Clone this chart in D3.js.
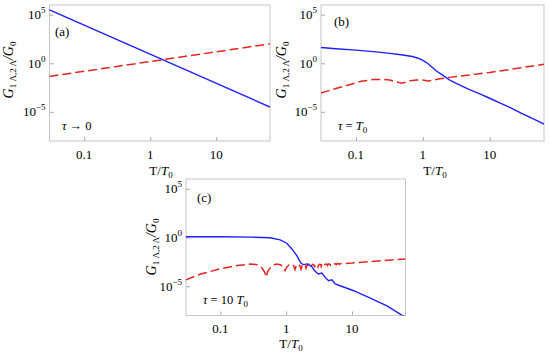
<!DOCTYPE html>
<html>
<head>
<meta charset="utf-8">
<title>G1Λ,2Λ/G0 versus T/T0</title>
<style>
  body { margin: 0; background: #fff; }
  svg { font-family: "Liberation Serif", "DejaVu Serif", serif; }
  .frame { fill: none; stroke: #c6c6c6; stroke-width: 1; }
  .tick line { stroke: #a8a8a8; }
  .blue { fill: none; stroke: #1f1fff; stroke-width: 1.4; }
  .red { fill: none; stroke: #e8261f; stroke-width: 1.5; stroke-dasharray: 9,4; }
</style>
</head>
<body>
<script src="https://d3js.org/d3.v7.min.js"></script>
<script>
// axes
var xTicks = [0.1, 1, 10];
var xTickLabels = ["0.1", "1", "10"];
var yTicks = [1e-5, 1, 1e5];
var yTickExps = ["\u22125", "0", "5"];

// values are log10(G/G0)
// (a) tau -> 0
var tA = [0.03, 65];
var blueA = [5.5, -4.5];
var redA = [-1.35, 2.0];

// (b) tau = T0
var tBlueB = [0.03, 0.05, 0.1, 0.2, 0.3, 0.5, 0.7, 0.85, 1.0, 1.15, 1.3, 1.6, 2.0, 2.5, 3, 4, 5, 7, 10, 15, 20, 30, 45, 65];
var blueB = [1.62, 1.5, 1.35, 1.17, 1.05, 0.85, 0.7, 0.52, 0.3, 0.05, -0.25, -0.8, -1.25, -1.7, -2.0, -2.4, -2.7, -3.13, -3.6, -4.15, -4.55, -5.15, -5.72, -6.26];
var tRedB = [0.03, 0.05, 0.08, 0.12, 0.18, 0.25, 0.32, 0.4, 0.48, 0.55, 0.65, 0.8, 1.0, 1.2, 1.4, 1.8, 2.5, 10, 65];
var redB = [-3.05, -2.6, -2.2, -1.85, -1.68, -1.65, -1.72, -1.92, -2.05, -1.95, -1.8, -1.72, -1.72, -1.82, -1.75, -1.6, -1.45, -0.95, -0.1];

// (c) tau = 10 T0
var tBlueC = [0.03, 0.1, 0.3, 0.57, 0.81, 1.02, 1.22, 1.45, 1.68, 1.83, 2.1, 2.45, 2.75, 3.09, 3.48, 3.92, 4.4, 4.94, 5.56, 6.6, 10.6, 19, 34, 65];
var blueC = [0.08, 0.08, 0.04, -0.03, -0.24, -0.59, -1.17, -1.86, -2.65, -2.78, -2.71, -2.99, -3.47, -3.74, -3.64, -4.09, -4.43, -4.33, -4.77, -4.95, -5.46, -6.22, -7.01, -8.2];
var tRedC = [0.03, 0.05, 0.1, 0.18, 0.28, 0.35, 0.42, 0.47, 0.495, 0.53, 0.6, 0.7, 0.82, 0.9, 0.96, 1.02, 1.1, 1.2, 1.3, 1.36, 1.42, 1.5, 1.62, 1.68, 1.74, 1.85, 1.95, 2.0, 2.06, 2.2, 2.3, 2.35, 2.4, 2.55, 2.66, 2.7, 2.74, 2.9, 3.0, 3.05, 3.1, 3.25, 3.36, 3.4, 3.44, 3.62, 3.76, 3.8, 3.84, 4.05, 4.2, 4.25, 4.3, 4.5, 4.66, 4.7, 4.75, 5.0, 5.15, 5.2, 5.25, 5.5, 5.75, 5.8, 5.85, 6.1, 6.35, 6.4, 6.45, 6.8, 7.1, 7.8, 10, 20, 40, 65];
var redC = [-4.33, -3.75, -3.2, -2.88, -2.72, -2.76, -3.05, -3.55, -4.05, -3.4, -2.95, -2.72, -2.8, -3.05, -3.4, -3.05, -2.8, -2.72, -2.9, -3.3, -2.9, -2.72, -2.92, -3.25, -2.9, -2.73, -2.88, -3.15, -2.9, -2.74, -2.86, -3.1, -2.88, -2.74, -2.86, -3.05, -2.86, -2.74, -2.84, -3.0, -2.84, -2.73, -2.82, -2.95, -2.82, -2.72, -2.8, -2.9, -2.8, -2.71, -2.78, -2.86, -2.78, -2.7, -2.76, -2.82, -2.76, -2.7, -2.74, -2.8, -2.74, -2.69, -2.72, -2.76, -2.72, -2.68, -2.7, -2.74, -2.7, -2.68, -2.67, -2.66, -2.62, -2.45, -2.3, -2.2];

var panels = [
  { frame: [49.5, 5, 270, 141], tag: "(a)", tagPos: [55, 36], tau: [62, 130], tauText: ["τ → 0"],
    yLab: [13, 70], xLab: [161, 175], tickBase: 159,
    blue: [tA, blueA], red: [tA, redA] },
  { frame: [321, 5, 544, 141], tag: "(b)", tagPos: [334, 26], tau: [338, 130], tauText: ["τ = ", "T", "0"],
    yLab: [286, 70], xLab: [435, 175], tickBase: 159,
    blue: [tBlueB, blueB], red: [tRedB, redB] },
  { frame: [186, 179, 405.5, 315.5], tag: "(c)", tagPos: [197, 202], tau: [203, 304], tauText: ["τ = 10 ", "T", "0"],
    yLab: [156, 247], xLab: [291, 348], tickBase: 333,
    blue: [tBlueC, blueC], red: [tRedC, redC] }
];

var svg = d3.select("body").append("svg")
  .attr("width", 550)
  .attr("height", 355);

panels.forEach(function(p, i) {
  var f = p.frame;
  var x = d3.scaleLog().domain([0.03, 65]).range([f[0], f[2]]);
  var y = d3.scaleLog().domain([1e-8, 1e6]).range([f[3], f[1]]);
  var g = svg.append("g");

  g.append("clipPath").attr("id", "clip" + i)
    .append("rect")
    .attr("x", f[0]).attr("y", f[1])
    .attr("width", f[2] - f[0]).attr("height", f[3] - f[1]);

  // ticks inside the frame
  g.append("g")
    .attr("transform", "translate(0," + f[3] + ")")
    .call(d3.axisBottom(x).tickValues(xTicks).tickSize(-4).tickFormat(""))
    .call(s => s.select(".domain").remove());
  g.append("g")
    .attr("transform", "translate(" + f[0] + ",0)")
    .call(d3.axisLeft(y).tickValues(yTicks).tickSize(-4).tickFormat(""))
    .call(s => s.select(".domain").remove());

  g.append("rect").attr("class", "frame")
    .attr("x", f[0]).attr("y", f[1])
    .attr("width", f[2] - f[0]).attr("height", f[3] - f[1]);

  // tick labels
  g.selectAll(".xl").data(xTicks).enter().append("text")
    .attr("x", d => x(d)).attr("y", p.tickBase)
    .attr("text-anchor", "middle").attr("font-size", 13)
    .text((d, k) => xTickLabels[k]);

  yTicks.forEach(function(v, k) {
    var t = g.append("text")
      .attr("x", f[0] - 4).attr("y", y(v) + 4.5)
      .attr("text-anchor", "end").attr("font-size", 13);
    t.append("tspan").text("10");
    t.append("tspan").attr("dy", -6).attr("font-size", 9).text(yTickExps[k]);
  });

  // curves
  var line = d3.line()
    .x(d => x(d[0]))
    .y(d => y(Math.pow(10, d[1])));
  var plot = g.append("g").attr("clip-path", "url(#clip" + i + ")");
  plot.append("path").attr("class", "red")
    .attr("d", line(d3.zip(p.red[0], p.red[1])));
  plot.append("path").attr("class", "blue")
    .attr("d", line(d3.zip(p.blue[0], p.blue[1])));

  // labels
  g.append("text").attr("x", p.tagPos[0]).attr("y", p.tagPos[1])
    .attr("font-size", 13).text(p.tag);

  var tau = g.append("text").attr("x", p.tau[0]).attr("y", p.tau[1]).attr("font-size", 12.5);
  tau.append("tspan").attr("font-style", "italic").text(p.tauText[0].slice(0, 1));
  tau.append("tspan").text(p.tauText[0].slice(1));
  if (p.tauText.length > 1) {
    tau.append("tspan").attr("font-style", "italic").text(p.tauText[1]);
    tau.append("tspan").attr("dy", 3).attr("font-size", 9).text(p.tauText[2]);
  }

  var xl = g.append("text").attr("x", p.xLab[0]).attr("y", p.xLab[1])
    .attr("text-anchor", "middle").attr("font-size", 13);
  xl.append("tspan").text("T/");
  xl.append("tspan").attr("font-style", "italic").text("T");
  xl.append("tspan").attr("dy", 3).attr("font-size", 9).text("0");

  var yl = g.append("text")
    .attr("transform", "translate(" + p.yLab[0] + "," + p.yLab[1] + ") rotate(-90)")
    .attr("text-anchor", "middle").attr("font-size", 14);
  yl.append("tspan").attr("font-style", "italic").text("G");
  yl.append("tspan").attr("dy", 3).attr("font-size", 9).text("1 Λ,2 Λ");
  yl.append("tspan").attr("dy", -3).attr("font-style", "italic").text("/G");
  yl.append("tspan").attr("dy", 3).attr("font-size", 9).text("0");
});
</script>
</body>
</html>
